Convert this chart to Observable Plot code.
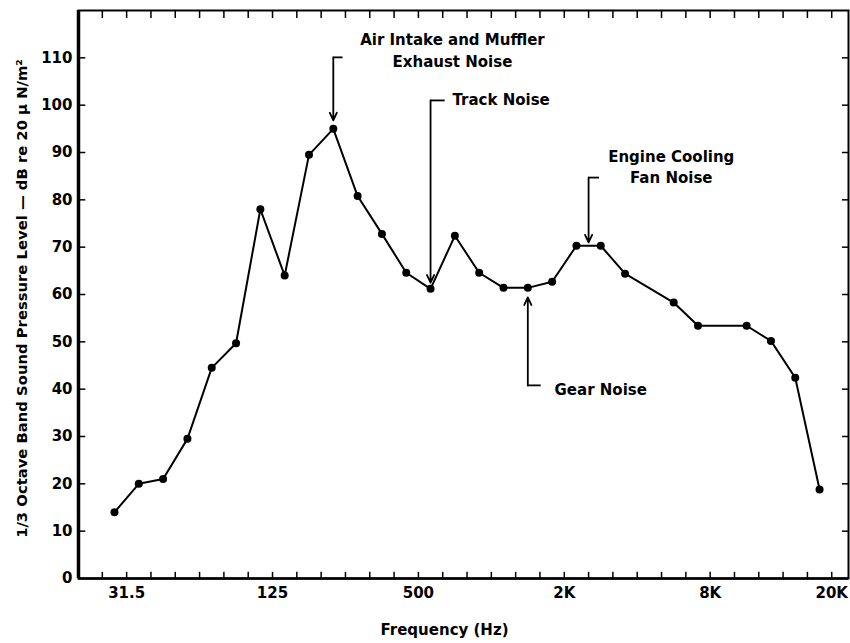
<!DOCTYPE html>
<html>
<head>
<meta charset="utf-8">
<script src="https://cdn.jsdelivr.net/npm/d3@7"></script>
<script src="https://cdn.jsdelivr.net/npm/@observablehq/plot@0.6"></script>
<style>
  html, body { margin: 0; padding: 0; background: #fff; }
</style>
</head>
<body>
<div id="chart"></div>
<script>
// 1/3-octave band index of each plotted point (bands 22 and 25 have no point)
const bandIndex = [0,1,2,3,4,5,6,7,8,9,10,11,12,13,14,15,16,17,18,19,20,21,23,24,26,27,28,29];
// sound pressure level (dB re 20 µN/m²)
const levels = [14,20,21,29.5,44.5,49.7,78,64,89.5,95,80.8,72.8,64.6,61.2,72.4,64.6,61.4,61.4,62.7,70.3,70.3,64.4,58.3,53.4,53.4,50.2,42.4,18.8];

// x tick labels and their positions on the band axis
const xTickLabels = ["31.5","125","500","2K","8K","20K"];
const xTickPos = [0.5,6.5,12.5,18.5,24.5,29.5];
const yTicks = [0,10,20,30,40,50,60,70,80,90,100,110];

// annotations
const noteText = [
  {text: "Air Intake and Muffler", x: 13.9, y: 113.7, anchor: "middle"},
  {text: "Exhaust Noise", x: 13.9, y: 109.0, anchor: "middle"},
  {text: "Track Noise", x: 13.9, y: 101.0, anchor: "start"},
  {text: "Engine Cooling", x: 22.9, y: 89.0, anchor: "middle"},
  {text: "Fan Noise", x: 22.9, y: 84.5, anchor: "middle"},
  {text: "Gear Noise", x: 18.1, y: 39.7, anchor: "start"}
];
const noteArrows = [
  {x: 9, from: 110.1, to: 96.8, hookTo: 9.4},
  {x: 13, from: 101.0, to: 62.5, hookTo: 13.6},
  {x: 19.5, from: 84.7, to: 71.0, hookTo: 19.95},
  {x: 17, from: 40.8, to: 59.4, hookTo: 17.55}
];

const points = bandIndex.map((b, i) => ({band: b, level: levels[i]}));
const xDomain = [-1.48, 30.19];
const minorTicks = d3.range(-0.5, 30, 1);
const innerYTicks = yTicks.filter(d => d > 0);
const labelMap = new Map(xTickPos.map((p, i) => [p, xTickLabels[i]]));

const FONT = "'DejaVu Sans', sans-serif";

const chart = Plot.plot({
  width: 850,
  height: 643,
  marginLeft: 78,
  marginRight: 2,
  marginTop: 10,
  marginBottom: 65,
  style: {fontFamily: FONT, fontSize: "15px", fontWeight: "bold", color: "#000", background: "#fff"},
  x: {domain: xDomain, axis: null},
  y: {domain: [0, 120], axis: null},
  marks: [
    // frame
    Plot.frame({stroke: "#000", strokeWidth: 2}),
    Plot.ruleX([xDomain[0]], {stroke: "#000", strokeWidth: 3.5}),
    Plot.ruleY([0], {stroke: "#000", strokeWidth: 2.5}),
    // inward ticks
    Plot.ruleX(minorTicks, {x: d => d, y1: 0, y2: 1.3, stroke: "#000", strokeWidth: 1.5}),
    Plot.ruleX(minorTicks, {x: d => d, y1: 120, y2: 118.3, stroke: "#000", strokeWidth: 1.5}),
    Plot.ruleY(innerYTicks, {y: d => d, x1: xDomain[0], x2: xDomain[0] + 0.3, stroke: "#000", strokeWidth: 1.5}),
    Plot.ruleY(innerYTicks, {y: d => d, x1: xDomain[1], x2: xDomain[1] - 0.25, stroke: "#000", strokeWidth: 1.5}),
    // axes labels
    Plot.axisY({ticks: yTicks, tickSize: 0, tickPadding: 6, label: null, fontSize: 15, fontWeight: "bold"}),
    Plot.axisX({ticks: xTickPos, tickSize: 0, tickPadding: 9, tickFormat: d => labelMap.get(d), label: null, fontSize: 15, fontWeight: "bold"}),
    Plot.text(["Frequency (Hz)"], {frameAnchor: "bottom", textAnchor: "middle", dx: -19, dy: 56, fontSize: 15, fontWeight: "bold"}),
    Plot.text(["1/3 Octave Band Sound Pressure Level \u2014 dB re 20 \u03bc N/m\u00b2"], {frameAnchor: "left", textAnchor: "middle", dx: -56, dy: 4, rotate: -90, fontSize: 14.8, fontWeight: "bold"}),
    // data
    Plot.line(points, {x: "band", y: "level", stroke: "#000", strokeWidth: 2}),
    Plot.dot(points, {x: "band", y: "level", r: 4, fill: "#000"}),
    // annotations
    Plot.arrow(noteArrows, {x1: "x", x2: "x", y1: "from", y2: "to", stroke: "#000", strokeWidth: 1.8, headLength: 7, headAngle: 50}),
    Plot.ruleY(noteArrows, {y: "from", x1: "x", x2: "hookTo", stroke: "#000", strokeWidth: 1.8}),
    Plot.text(noteText, {filter: d => d.anchor === "middle", x: "x", y: "y", text: "text", textAnchor: "middle", fontSize: 15, fontWeight: "bold"}),
    Plot.text(noteText, {filter: d => d.anchor === "start", x: "x", y: "y", text: "text", textAnchor: "start", fontSize: 15, fontWeight: "bold"})
  ]
});
document.getElementById("chart").appendChild(chart);
</script>
</body>
</html>
